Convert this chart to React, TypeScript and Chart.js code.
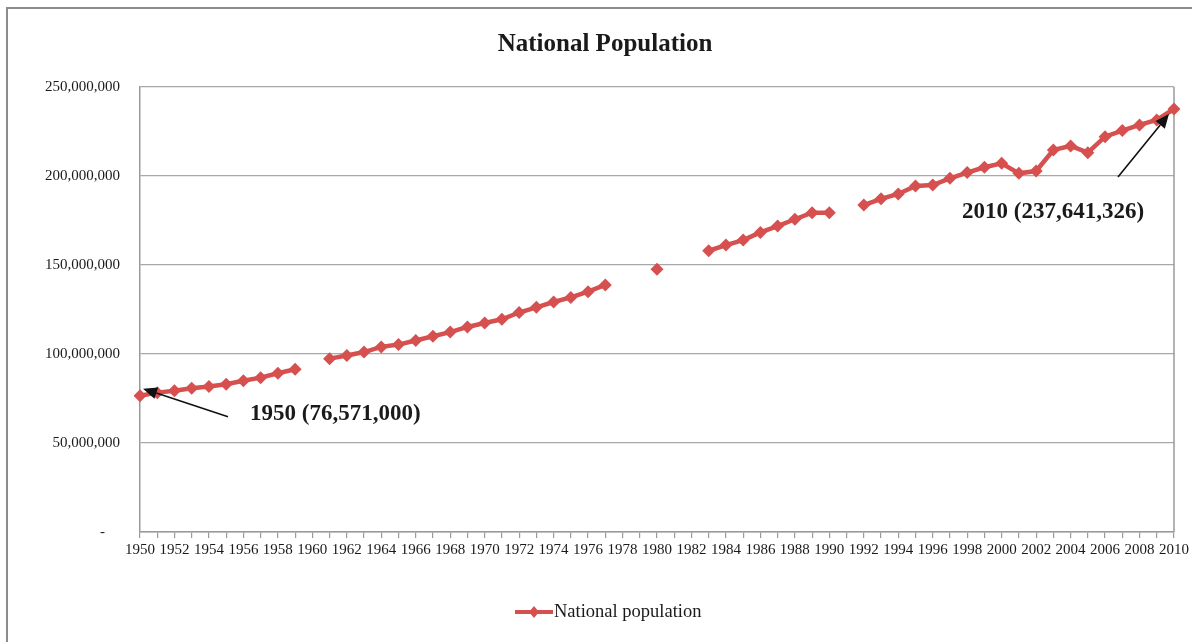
import React, { useEffect, useRef } from "react";
import { Chart, registerables } from "chart.js";

Chart.register(...registerables);

const TITLE = "National Population";
const SERIES_LABEL = "National population";
const YEARS: string[] = Array.from({ length: 61 }, (_, i) => String(1950 + i));

const POPULATION: (number | null)[] = [
  76571000, 78300000, 79400000, 80700000, 81700000, 83000000, 85000000, 86700000, 89200000, 91400000, // 1950-1959
  null, 97400000, 99200000, 101100000, 104000000, 105300000, 107600000, 110000000, 112300000, 115200000, // 1960-1969
  117400000, 119500000, 123300000, 126200000, 129200000, 131800000, 135000000, 138800000, null, null, // 1970-1979
  147600000, null, null, 158000000, 161200000, 164000000, 168300000, 171900000, 175700000, 179400000, // 1980-1989
  179400000, null, 183700000, 187200000, 189900000, 194400000, 194900000, 198700000, 201900000, 204900000, // 1990-1999
  207100000, 201500000, 202800000, 214600000, 216900000, 213100000, 222100000, 225500000, 228700000, 231500000, // 2000-2009
  237641326, // 2010
];

const Y_MIN = 0;
const Y_MAX = 250000000;
const Y_STEP = 50000000;

const ANNOTATIONS = [
  { index: 0, text: "1950 (76,571,000)" },
  { index: 60, text: "2010 (237,641,326)" },
];

const RED = "#D6504F";
const SERIF = "'Liberation Serif', 'Times New Roman', serif";

export default function App() {
  const canvasRef = useRef<HTMLCanvasElement | null>(null);

  useEffect(() => {
    const canvas = canvasRef.current;
    if (!canvas) return;

    const decorPlugin = {
      id: "decor",
      beforeDatasetsDraw(chart: any) {
        const { ctx, chartArea } = chart;
        ctx.save();
        ctx.strokeStyle = "#9a9a9a";
        ctx.lineWidth = 1.5;
        ctx.beginPath();
        ctx.moveTo(chartArea.right, chartArea.top);
        ctx.lineTo(chartArea.right, chartArea.bottom);
        ctx.stroke();
        ctx.restore();
      },
      afterDraw(chart: any) {
        const { ctx } = chart;
        ctx.save();
        // Title
        ctx.fillStyle = "#1a1a1a";
        ctx.font = `bold 25px ${SERIF}`;
        ctx.textAlign = "center";
        ctx.textBaseline = "middle";
        ctx.fillText(TITLE, 605, 45);

        // Legend
        const ly = 612;
        ctx.strokeStyle = RED;
        ctx.lineWidth = 4;
        ctx.beginPath();
        ctx.moveTo(515, ly);
        ctx.lineTo(553, ly);
        ctx.stroke();
        ctx.fillStyle = RED;
        ctx.beginPath();
        ctx.moveTo(534, ly - 6);
        ctx.lineTo(539, ly);
        ctx.lineTo(534, ly + 6);
        ctx.lineTo(529, ly);
        ctx.closePath();
        ctx.fill();
        ctx.fillStyle = "#1a1a1a";
        ctx.font = `18.5px ${SERIF}`;
        ctx.textAlign = "left";
        ctx.fillText(SERIES_LABEL, 554, ly);

        // Annotations
        const meta = chart.getDatasetMeta(0);
        const drawArrow = (x1: number, y1: number, x2: number, y2: number) => {
          const ang = Math.atan2(y2 - y1, x2 - x1);
          const head = 14;
          const hw = 6;
          const bx = x2 - head * Math.cos(ang);
          const by = y2 - head * Math.sin(ang);
          ctx.strokeStyle = "#111";
          ctx.lineWidth = 1.6;
          ctx.beginPath();
          ctx.moveTo(x1, y1);
          ctx.lineTo(bx, by);
          ctx.stroke();
          ctx.fillStyle = "#111";
          ctx.beginPath();
          ctx.moveTo(x2, y2);
          ctx.lineTo(bx + hw * Math.sin(ang), by - hw * Math.cos(ang));
          ctx.lineTo(bx - hw * Math.sin(ang), by + hw * Math.cos(ang));
          ctx.closePath();
          ctx.fill();
        };
        ctx.font = `bold 23px ${SERIF}`;
        ctx.textAlign = "left";
        ctx.textBaseline = "middle";
        ANNOTATIONS.forEach((a) => {
          const pt = meta.data[a.index];
          if (!pt) return;
          if (a.index === 0) {
            drawArrow(pt.x + 88, pt.y + 21, pt.x + 3, pt.y - 7);
            ctx.fillStyle = "#1a1a1a";
            ctx.fillText(a.text, pt.x + 110, pt.y + 18);
          } else {
            drawArrow(pt.x - 56, pt.y + 68, pt.x - 5, pt.y + 5);
            ctx.fillStyle = "#1a1a1a";
            ctx.fillText(a.text, pt.x - 212, pt.y + 103);
          }
        });
        ctx.restore();
      },
    };

    const chart = new Chart(canvas, {
      type: "line",
      data: {
        labels: YEARS,
        datasets: [
          {
            label: SERIES_LABEL,
            data: POPULATION,
            borderColor: RED,
            backgroundColor: RED,
            borderWidth: 4.5,
            pointStyle: "rectRot",
            pointRadius: 6.5,
            pointBackgroundColor: RED,
            pointBorderColor: RED,
            pointBorderWidth: 0,
            spanGaps: false,
            tension: 0,
          },
        ],
      },
      options: {
        animation: false,
        responsive: true,
        maintainAspectRatio: false,
        layout: { padding: { top: 87, right: 17, bottom: 60, left: 0 } },
        plugins: {
          legend: { display: false },
          title: { display: false },
          tooltip: { enabled: false },
        },
        scales: {
          x: {
            type: "category",
            offset: false,
            grid: {
              drawOnChartArea: false,
              drawTicks: true,
              tickLength: 6,
              color: "#9a9a9a",
              lineWidth: 1.2,
            },
            border: { color: "#9a9a9a", width: 1.5 },
            ticks: {
              autoSkip: false,
              maxRotation: 0,
              minRotation: 0,
              padding: 3,
              color: "#1a1a1a",
              font: { family: SERIF, size: 15 },
              callback: (_v: any, i: number) => (i % 2 === 0 ? YEARS[i] : ""),
            },
            afterFit: (s: any) => {
              s.height = 50;
            },
          },
          y: {
            min: Y_MIN,
            max: Y_MAX,
            grid: { color: "#a8a8a8", lineWidth: 1.2, drawTicks: false },
            border: { color: "#9a9a9a", width: 1.5 },
            ticks: {
              stepSize: Y_STEP,
              padding: 20,
              color: "#1a1a1a",
              font: { family: SERIF, size: 15 },
              callback: (v: any) => (Number(v) === 0 ? "-    " : Number(v).toLocaleString("en-US")),
            },
            afterFit: (s: any) => {
              s.width = 140;
            },
          },
        },
      },
      plugins: [decorPlugin],
    });

    return () => chart.destroy();
  }, []);

  return (
    <div style={{ position: "fixed", left: 0, top: 0, width: 1192, height: 642, background: "#fff" }}>
      <div
        style={{
          position: "absolute",
          left: 6,
          top: 7,
          width: 1200,
          height: 650,
          borderLeft: "2px solid #8c8c8c",
          borderTop: "2px solid #8c8c8c",
        }}
      />
      <div style={{ position: "absolute", left: 0, top: 0, width: 1192, height: 642 }}>
        <canvas ref={canvasRef} />
      </div>
    </div>
  );
}
